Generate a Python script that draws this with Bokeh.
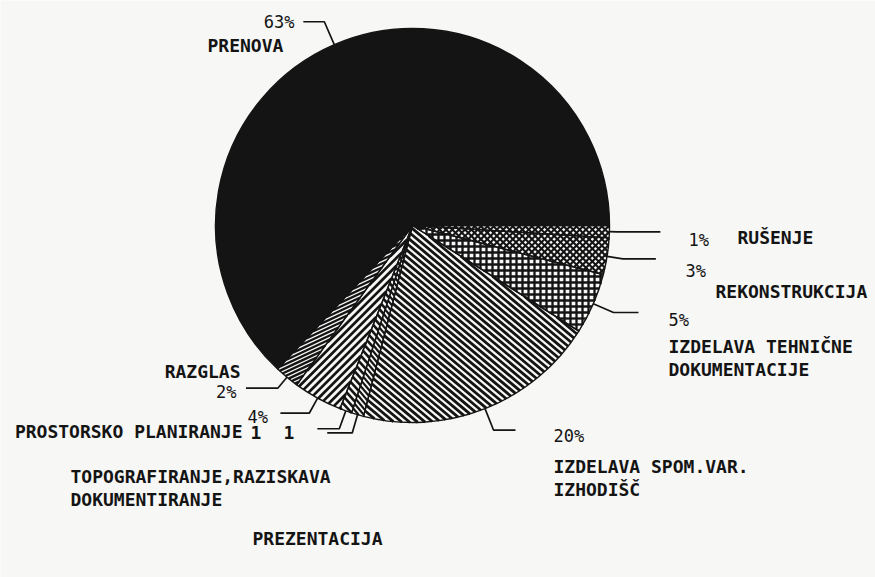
import math
from bokeh.plotting import figure
from bokeh.models import Range1d, ColumnDataSource
from bokeh.core.properties import value
from bokeh.embed import file_html
from bokeh.resources import INLINE

# ---------------- data ----------------
categories = ["RUŠENJE", "REKONSTRUKCIJA", "IZDELAVA TEHNIČNE\nDOKUMENTACIJE",
              "IZDELAVA SPOM.VAR.\nIZHODIŠČ", "PREZENTACIJA",
              "TOPOGRAFIRANJE,RAZISKAVA\nDOKUMENTIRANJE", "PROSTORSKO PLANIRANJE",
              "RAZGLAS", "PRENOVA"]
shares = [1, 3, 5, 20, 1, 1, 4, 2, 63]
share_labels = ["1%", "3%", "5%", "20%", "1", "1", "4%", "2%", "63%"]

# ---------------- layout / style ----------------
W, H = 875, 577
PAPER = "#f7f7f5"
INK = "#141414"
CX, CY, R = 412, 225, 197          # pie centre (screen px) and radius


def sy(y):                          # screen y -> data y (1 unit = 1 px)
    return H - y


# hatch families per slice: list of (screen angle of lines in deg, spacing, weight)
# None -> solid ink
hatches = [
    [(45, 4.5, 2.1), (-45, 4.5, 2.1)],
    [(45, 4.5, 2.1), (-45, 4.5, 2.1)],
    [(0, 6, 2.3), (90, 6, 2.3)],
    [(40, 5, 2.8)],
    [(50, 4, 2.2)],
    [(48, 5, 2.6)],
    [(-45, 5.5, 2.7)],
    [(-25, 3.6, 2.3)],
    None,
]
# leader: radial extension beyond rim, then horizontal run (+ right / - left)
leaders = [(8, 43), (16, 33), (22, 25), (23, 22), (19, -25), (19, -22),
           (17, -29), (14, -32), (25, -21)]
# share-label anchors (x, y centre, align) in screen px
share_pos = [(688, 239, "left"), (685, 270, "left"), (668, 319, "left"),
             (553, 435, "left"), (283, 432, "left"), (250, 432, "left"),
             (247, 416, "left"), (236, 391, "right"), (294, 21, "right")]
# category-name anchors (x, cap top, align) in screen px
name_pos = [(737, 231, "left"), (715, 285, "left"), (668, 340, "left"),
            (553, 460, "left"), (252, 532, "left"), (70, 470, "left"),
            (242, 425, "right"), (240, 365, "right"), (207, 39, "left")]


def sector_poly(a0, a1):
    n = max(4, int((a1 - a0) / math.radians(1.5)) + 2)
    pts = [(CX, CY)]
    for k in range(n + 1):
        a = a0 + (a1 - a0) * k / n
        pts.append((CX + R * math.cos(a), CY + R * math.sin(a)))
    return pts


def clip_lines(poly, theta_deg, spacing):
    th = math.radians(theta_deg)
    d = (math.cos(th), math.sin(th))
    nv = (-math.sin(th), math.cos(th))
    proj = [px * nv[0] + py * nv[1] for px, py in poly]
    t = math.ceil(min(proj) / spacing) * spacing
    segs = []
    while t <= max(proj):
        hits = []
        for i in range(len(poly)):
            P, Q = poly[i], poly[(i + 1) % len(poly)]
            fp = P[0] * nv[0] + P[1] * nv[1] - t
            fq = Q[0] * nv[0] + Q[1] * nv[1] - t
            if fp == 0:
                hits.append(P)
            elif fp * fq < 0:
                u = fp / (fp - fq)
                hits.append((P[0] + u * (Q[0] - P[0]), P[1] + u * (Q[1] - P[1])))
        if len(hits) >= 2:
            hits.sort(key=lambda h: h[0] * d[0] + h[1] * d[1])
            a, b = hits[0], hits[-1]
            segs.append(([a[0], b[0]], [sy(a[1]), sy(b[1])]))
        t += spacing
    return segs


p = figure(width=W, height=H, x_range=Range1d(0, W), y_range=Range1d(0, H),
           x_axis_type=None, y_axis_type=None, toolbar_location=None,
           output_backend="svg", min_border=0, outline_line_color=None,
           background_fill_color=PAPER, border_fill_color=PAPER)

total = float(sum(shares))
cum = 0.0
angles = []
for s in shares:
    a0 = cum / total * 2 * math.pi          # clockwise from east on screen
    cum += s
    a1 = cum / total * 2 * math.pi
    angles.append((a0, a1))

# fills
for i, (a0, a1) in enumerate(angles):
    p.wedge(x=[CX], y=[sy(CY)], radius=R, start_angle=-a1, end_angle=-a0,
            direction="anticlock", line_color=None,
            fill_color=INK if hatches[i] is None else PAPER)

# hatching
for i, (a0, a1) in enumerate(angles):
    if hatches[i] is None:
        continue
    poly = sector_poly(a0, a1)
    for theta, sp, wt in hatches[i]:
        segs = clip_lines(poly, theta, sp)
        p.multi_line(xs=[s[0] for s in segs], ys=[s[1] for s in segs],
                     line_color=INK, line_width=wt, line_cap="butt")

# outlines
for i, (a0, a1) in enumerate(angles):
    p.wedge(x=[CX], y=[sy(CY)], radius=R, start_angle=-a1, end_angle=-a0,
            direction="anticlock", line_color=INK, line_width=1.4, fill_color=None)

# leader lines
for i, (a0, a1) in enumerate(angles):
    m = (a0 + a1) / 2
    ux, uy = math.cos(m), math.sin(m)
    x0, y0 = CX + R * ux, CY + R * uy
    ext, run = leaders[i]
    x1, y1 = x0 + ext * ux, y0 + ext * uy
    p.line([x0, x1, x1 + run], [sy(y0), sy(y1), sy(y1)], line_color=INK, line_width=1.7)

# share labels
pct_idx = [i for i, t in enumerate(share_labels) if "%" in t]
num_idx = [i for i, t in enumerate(share_labels) if "%" not in t]
for idx, style, size in [(pct_idx, "normal", "17px"), (num_idx, "bold", "18px")]:
    for align in ("left", "right"):
        sel = [i for i in idx if share_pos[i][2] == align]
        if not sel:
            continue
        src = ColumnDataSource(dict(x=[share_pos[i][0] for i in sel],
                                    y=[sy(share_pos[i][1]) for i in sel],
                                    t=[share_labels[i] for i in sel]))
        p.text(x="x", y="y", text="t", source=src, text_font=value("DejaVu Sans Mono"),
               text_font_style=style, text_font_size=size, text_color=INK,
               text_align=align, text_baseline="middle")

# category names
for align in ("left", "right"):
    sel = [i for i in range(len(categories)) if name_pos[i][2] == align]
    src = ColumnDataSource(dict(x=[name_pos[i][0] for i in sel],
                                y=[sy(name_pos[i][1] - 5) for i in sel],
                                t=[categories[i] for i in sel]))
    p.text(x="x", y="y", text="t", source=src, text_font=value("DejaVu Sans Mono"),
           text_font_style="bold", text_font_size="18px", text_color=INK,
           text_align=align, text_baseline="top", text_line_height=1.1)

open("out.html", "w").write(file_html(p, INLINE))
